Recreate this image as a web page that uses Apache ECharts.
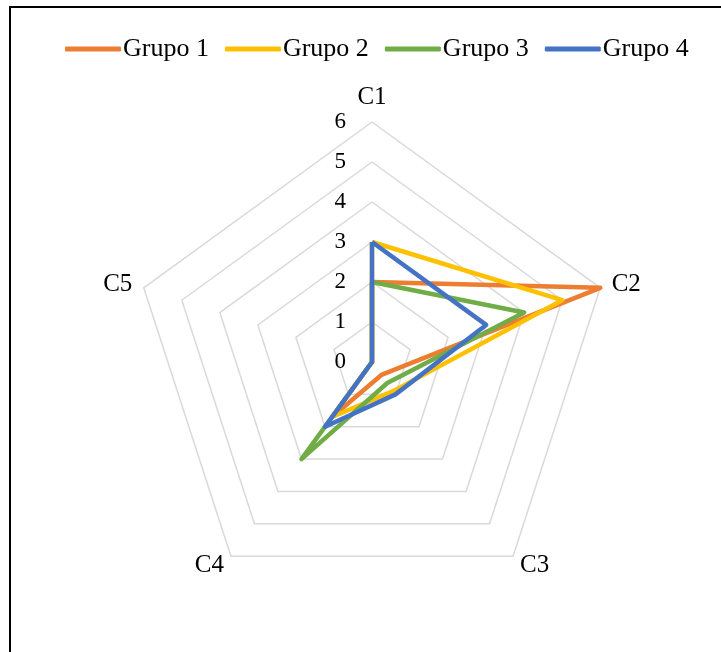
<!DOCTYPE html>
<html>
<head>
<meta charset="utf-8">
<script src="https://cdn.jsdelivr.net/npm/echarts@6/dist/echarts.min.js"></script>
<style>
html,body{margin:0;padding:0;background:#fff;}
#chart{width:721px;height:652px;}
</style>
</head>
<body>
<div id="chart"></div>
<script>
const categories = ['C1', 'C2', 'C3', 'C4', 'C5'];
const seriesNames = ['Grupo 1', 'Grupo 2', 'Grupo 3', 'Grupo 4'];
const grupo1 = [2, 6, 0.4, 1.7, 0];
const grupo2 = [3, 5, 0.9, 1.7, 0];
const grupo3 = [2, 4, 0.65, 3, 0];
const grupo4 = [3, 3, 1, 2, 0];
const axisMax = 6;
const tickLabels = ['0', '1', '2', '3', '4', '5', '6'];
const colors = ['#ED7D31', '#FFC000', '#70AD47', '#4472C4'];

const FONT = '"Liberation Serif", "Times New Roman", serif';
// ECharts radar runs counterclockwise; reorder so C2 is to the right (clockwise like the reference)
const order = [0, 4, 3, 2, 1];
const reorder = arr => order.map(i => arr[i]);

const indicator = order.map((i, k) => {
  const ind = { name: categories[i], max: axisMax, min: 0 };
  if (k === 0) {
    ind.axisLabel = {
      show: true,
      color: '#000',
      fontFamily: FONT,
      fontSize: 23,
      margin: 26,
      formatter: v => tickLabels[Math.round(v)] ?? String(v)
    };
  }
  return ind;
});

const allData = [grupo1, grupo2, grupo3, grupo4];
const chart = echarts.init(document.getElementById('chart'), null, { renderer: 'canvas' });
chart.setOption({
  animation: false,
  color: colors,
  graphic: [{
    type: 'rect',
    shape: { x: 10, y: 7, width: 760, height: 700 },
    style: { fill: 'none', stroke: '#000', lineWidth: 2 },
    silent: true
  }],
  legend: {
    top: 31,
    left: 60,
    icon: 'roundRect',
    itemWidth: 56,
    itemHeight: 5,
    itemGap: 16,
    textStyle: { fontFamily: FONT, fontSize: 26, color: '#000', padding: [0, 0, 0, -3] },
    data: seriesNames
  },
  radar: {
    center: [372, 362],
    radius: 240,
    startAngle: 90,
    splitNumber: 6,
    shape: 'polygon',
    indicator: indicator,
    axisName: { color: '#000', fontFamily: FONT, fontSize: 25 },
    nameGap: 12,
    axisLine: { show: false },
    axisTick: { show: false },
    splitLine: { lineStyle: { color: '#D9D9D9', width: 1.5 } },
    splitArea: { show: false }
  },
  series: [{
    type: 'radar',
    symbol: 'none',
    data: allData.map((d, i) => ({
      name: seriesNames[i],
      value: reorder(d),
      lineStyle: { width: 4.5, color: colors[i] },
      itemStyle: { color: colors[i] }
    }))
  }]
});
</script>
</body>
</html>
